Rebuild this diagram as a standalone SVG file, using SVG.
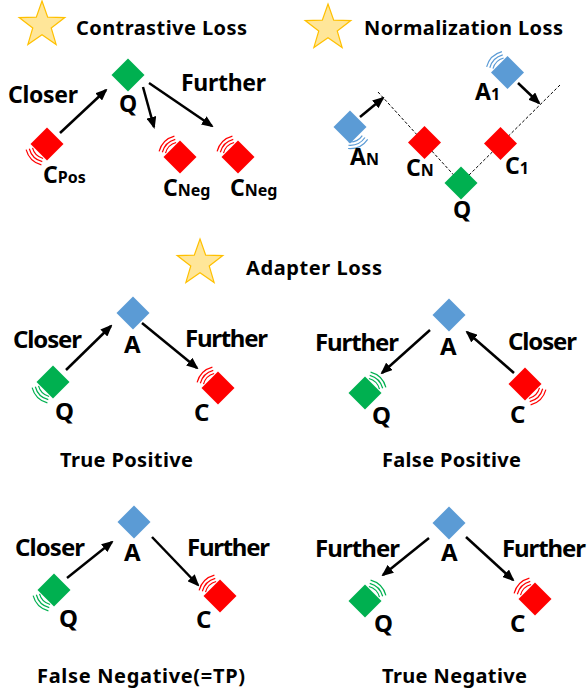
<svg xmlns="http://www.w3.org/2000/svg" width="587" height="694" viewBox="0 0 587 694">
<style>
.t{font-family:"Noto Sans","Open Sans","DejaVu Sans",sans-serif;font-weight:bold;fill:#000}
.ttl{font-size:20px}
.lb{font-size:23px}
.lg{font-size:24px}
.sb{font-size:16px}
.cap{font-size:20px}
.g{fill:#00B050}.r{fill:#FF0000}.b{fill:#5B9BD5}
.arr{stroke:#000;stroke-width:2.5;fill:none;marker-end:url(#ah)}
.dash{stroke:#000;stroke-width:1;stroke-dasharray:3 2;fill:none}
.wr{stroke:#FF0000}.wg{stroke:#00B050}.wb{stroke:#5B9BD5}
.star{fill:#FFE699;stroke:#FFC000;stroke-width:1.2}
</style>
<defs>
<marker id="ah" viewBox="0 0 12 10" refX="10" refY="5" markerWidth="12" markerHeight="10" markerUnits="userSpaceOnUse" orient="auto"><path d="M0,0 L12,5 L0,10 Z" fill="#000"/></marker>
<path id="dia" d="M0,-16.5 L16.5,0 L0,16.5 L-16.5,0 Z"/>
<path id="wave" fill="none" stroke-width="1.2" d="M12.99,-7.5 A15,15 0 0,1 12.99,7.5 M15.85,-9.15 A18.3,18.3 0 0,1 15.85,9.15 M18.71,-10.8 A21.6,21.6 0 0,1 18.71,10.8"/>
<path id="star" d="M0,-24 L5.7,-7.85 L22.83,-7.42 L9.23,3 L14.11,19.42 L0,9.7 L-14.11,19.42 L-9.23,3 L-22.83,-7.42 L-5.7,-7.85 Z"/>
</defs>

<!-- Contrastive Loss -->
<g id="title-contrastive">
<use href="#star" class="star" transform="translate(42,25)"/>
<text class="t ttl" x="76" y="35" textLength="171">Contrastive Loss</text>
</g>
<g id="c-q"><use href="#dia" class="g" transform="translate(128,75)"/><text class="t lb" x="119" y="112">Q</text></g>
<g id="c-pos"><use href="#wave" class="wr" transform="translate(47,144) rotate(135)"/><use href="#dia" class="r" transform="translate(47,144)"/><text class="t lb" x="43" y="183">C<tspan class="sb">Pos</tspan></text></g>
<g id="c-neg1"><use href="#wave" class="wr" transform="translate(180,157) rotate(225)"/><use href="#dia" class="r" transform="translate(180,157)"/><text class="t lb" x="163" y="196">C<tspan class="sb">Neg</tspan></text></g>
<g id="c-neg2"><use href="#wave" class="wr" transform="translate(238,157) rotate(225)"/><use href="#dia" class="r" transform="translate(238,157)"/><text class="t lb" x="230" y="196">C<tspan class="sb">Neg</tspan></text></g>
<g id="c-labels"><text class="t lb" x="8" y="103" textLength="70">Closer</text><text class="t lb" x="181" y="91" textLength="85">Further</text></g>

<!-- Normalization Loss -->
<g id="title-normalization">
<use href="#star" class="star" transform="translate(328,28)"/>
<text class="t ttl" x="364" y="35" textLength="199">Normalization Loss</text>
</g>
<g id="connectors-dashed">
<path class="dash" d="M378,92 L461,183"/>
<path class="dash" d="M560,85 L461,183"/>
</g>
<g id="n-a1"><use href="#wave" class="wb" transform="translate(507.5,72.5) rotate(225)"/><use href="#dia" class="b" transform="translate(507.5,72.5)"/><text class="t lb" x="475" y="100">A<tspan class="sb">1</tspan></text></g>
<g id="n-an"><use href="#wave" class="wb" transform="translate(350,127) rotate(65)"/><use href="#dia" class="b" transform="translate(350,127)"/><text class="t lb" x="350" y="165">A<tspan class="sb">N</tspan></text></g>
<g id="n-cn"><use href="#dia" class="r" transform="translate(424.5,142.5)"/><text class="t lb" x="406" y="176">C<tspan class="sb">N</tspan></text></g>
<g id="n-c1"><use href="#dia" class="r" transform="translate(500.5,143.5)"/><text class="t lb" x="505" y="174">C<tspan class="sb">1</tspan></text></g>
<g id="n-q"><use href="#dia" class="g" transform="translate(461,183)"/><text class="t lb" x="453" y="218">Q</text></g>

<!-- Adapter Loss -->
<g id="title-adapter">
<use href="#star" class="star" transform="translate(200,263)"/>
<text class="t ttl" x="246" y="275" textLength="136">Adapter Loss</text>
</g>

<!-- True Positive -->
<g id="tp-a"><use href="#dia" class="b" transform="translate(133,313)"/><text class="t lg" x="124" y="353">A</text></g>
<g id="tp-q"><use href="#wave" class="wg" transform="translate(53,382) rotate(135)"/><use href="#dia" class="g" transform="translate(53,382)"/><text class="t lg" x="55" y="420">Q</text></g>
<g id="tp-c"><use href="#wave" class="wr" transform="translate(218,388) rotate(225)"/><use href="#dia" class="r" transform="translate(218,388)"/><text class="t lg" x="194" y="421">C</text></g>
<g id="tp-labels"><text class="t lg" x="13" y="348" textLength="69">Closer</text><text class="t lg" x="185" y="347" textLength="83">Further</text><text class="t cap" x="60" y="467" textLength="133">True Positive</text></g>

<!-- False Positive -->
<g id="fp-a"><use href="#dia" class="b" transform="translate(449,315)"/><text class="t lg" x="440" y="355">A</text></g>
<g id="fp-q"><use href="#wave" class="wg" transform="translate(365,393) rotate(315)"/><use href="#dia" class="g" transform="translate(365,393)"/><text class="t lg" x="372" y="424">Q</text></g>
<g id="fp-c"><use href="#wave" class="wr" transform="translate(525,384) rotate(45)"/><use href="#dia" class="r" transform="translate(525,384)"/><text class="t lg" x="510" y="423">C</text></g>
<g id="fp-labels"><text class="t lg" x="315" y="351" textLength="84">Further</text><text class="t lg" x="508" y="350" textLength="69">Closer</text><text class="t cap" x="382" y="467" textLength="139">False Positive</text></g>

<!-- False Negative -->
<g id="fn-a"><use href="#dia" class="b" transform="translate(134,522)"/><text class="t lg" x="124" y="561">A</text></g>
<g id="fn-q"><use href="#wave" class="wg" transform="translate(54,590) rotate(135)"/><use href="#dia" class="g" transform="translate(54,590)"/><text class="t lg" x="59" y="627">Q</text></g>
<g id="fn-c"><use href="#wave" class="wr" transform="translate(220,596) rotate(225)"/><use href="#dia" class="r" transform="translate(220,596)"/><text class="t lg" x="196" y="628">C</text></g>
<g id="fn-labels"><text class="t lg" x="15" y="556" textLength="70">Closer</text><text class="t lg" x="187" y="556" textLength="83">Further</text><text class="t cap" x="37" y="683" textLength="208">False Negative(=TP)</text></g>

<!-- True Negative -->
<g id="tn-a"><use href="#dia" class="b" transform="translate(449,523)"/><text class="t lg" x="441" y="561">A</text></g>
<g id="tn-q"><use href="#wave" class="wg" transform="translate(365,601) rotate(315)"/><use href="#dia" class="g" transform="translate(365,601)"/><text class="t lg" x="374" y="632">Q</text></g>
<g id="tn-c"><use href="#wave" class="wr" transform="translate(535,599) rotate(225)"/><use href="#dia" class="r" transform="translate(535,599)"/><text class="t lg" x="510" y="632">C</text></g>
<g id="tn-labels"><text class="t lg" x="315" y="557" textLength="85">Further</text><text class="t lg" x="502" y="557" textLength="84">Further</text><text class="t cap" x="382" y="683" textLength="145">True Negative</text></g>

<g id="connectors">
<path class="arr" d="M60,133 L106,90"/>
<path class="arr" d="M143,87 L154,127"/>
<path class="arr" d="M149,83 L212,126"/>
<path class="arr" d="M360,117 L383,98"/>
<path class="arr" d="M518,83 L539,103"/>
<path class="arr" d="M66,370 L111,326"/>
<path class="arr" d="M142,323 L197,368"/>
<path class="arr" d="M430,330 L382,373"/>
<path class="arr" d="M514,373 L467,332"/>
<path class="arr" d="M67,578 L112,542"/>
<path class="arr" d="M152,537 L198,585"/>
<path class="arr" d="M429,538 L383,575"/>
<path class="arr" d="M466,537 L513,580"/>
</g>
</svg>
